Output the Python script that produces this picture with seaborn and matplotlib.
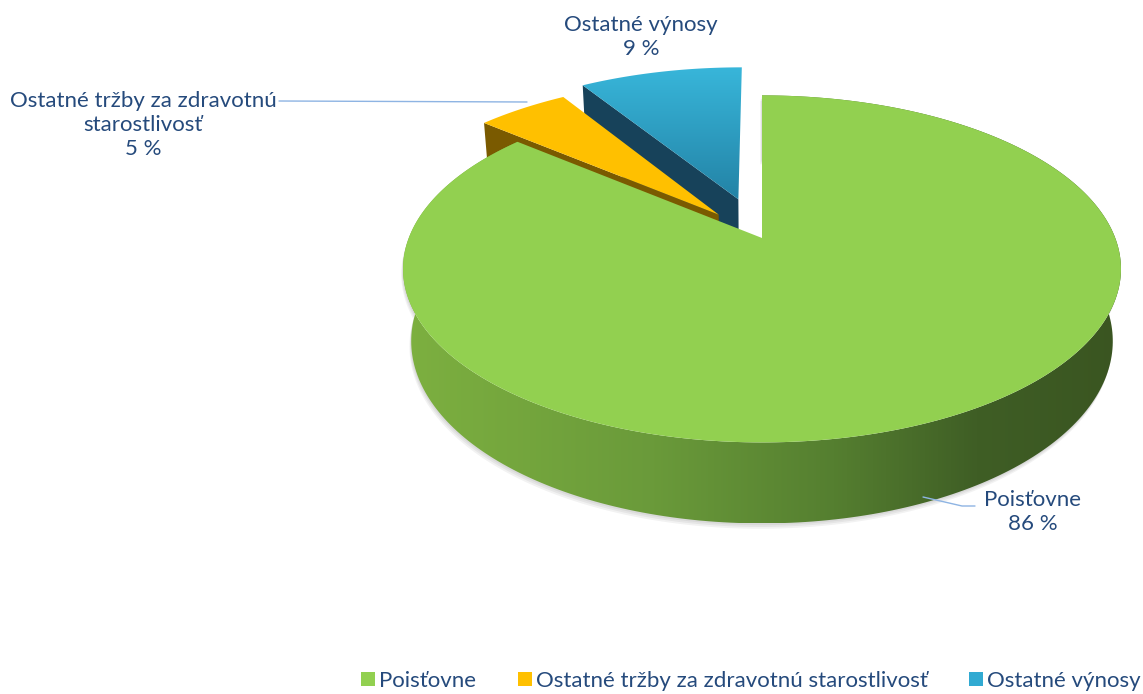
import numpy as np
import matplotlib
matplotlib.use("Agg")
import matplotlib.pyplot as plt
from matplotlib.patches import Polygon, Patch
from matplotlib.colors import LinearSegmentedColormap
import seaborn as sns

# data
kategorie = ["Poisťovne", "Ostatné tržby za zdravotnú starostlivosť", "Ostatné výnosy"]
nazvy_popisov = ["Poisťovne", "Ostatné tržby za zdravotnú\nstarostlivosť", "Ostatné výnosy"]
podiely = [86, 5, 9]

# styl
sns.set_theme(style="white")
plt.rcParams['font.family'] = ['Lato', 'DejaVu Sans']
farby = sns.color_palette(["#92D050", "#FFC000", "#31AAD2"])
farby_rezu = ["#4E7A2A", "#7A5A00", "#17425A"]
farba_textu = "#254A7C"
vysunutie = [0.0, 0.19, 0.25]

# parametre perspektivy (pixely obrazka)
CX, CY = 762, 238
F = 1745.0
DIST = 4.94
TILT = np.radians(28.4)
H = 0.235


def proj(X, Y, Z):
    d = Y * np.cos(TILT) - Z * np.sin(TILT)
    u = Y * np.sin(TILT) + Z * np.cos(TILT)
    s = F / (DIST + d)
    return np.column_stack([CX + X * s, CY - u * s])


cam = np.array([0.0, -DIST * np.cos(TILT), DIST * np.sin(TILT)])

fig = plt.figure(figsize=(11.43, 6.94), dpi=100)
ax = fig.add_axes([0, 0, 1, 1])


def gradient_fill(pts, cmap, horizontal=True, z=1):
    poly = Polygon(pts, closed=True, facecolor="none", edgecolor="none", zorder=z)
    ax.add_patch(poly)
    x0, y0 = pts.min(axis=0)
    x1, y1 = pts.max(axis=0)
    g = np.linspace(0, 1, 256)
    img = g[None, :] if horizontal else g[:, None]
    im = ax.imshow(img, cmap=cmap, extent=[x0, x1, y1, y0], aspect="auto",
                   origin="upper", zorder=z, interpolation="bilinear")
    im.set_clip_path(poly)


cmap_bok = LinearSegmentedColormap.from_list(
    "bok", [(0, "#7DB040"), (0.35, "#6A9A3A"), (0.6, "#557F30"), (0.8, "#3F5E25"), (1, "#3A5521")])
cmap_modra = LinearSegmentedColormap.from_list("modra", ["#38B6DA", "#2383A6"])

# vypocet vysekov
vyseky = []
cum = 0
for i, p in enumerate(podiely):
    a1 = 90 - cum * 3.6
    a0 = a1 - p * 3.6
    cum += p
    mid = np.radians((a0 + a1) / 2)
    ox, oy = vysunutie[i] * np.cos(mid), vysunutie[i] * np.sin(mid)
    hlbka = oy + 0.6 * np.sin(mid)
    vyseky.append((i, a0, a1, ox, oy, hlbka))

# od najvzdialenejsieho
for i, a0, a1, ox, oy, hlbka in sorted(vyseky, key=lambda v: -v[5]):
    z = 2 + (1 - hlbka)
    phi = np.radians(np.linspace(a0, a1, 300))
    X = ox + np.cos(phi)
    Y = oy + np.sin(phi)
    horna = proj(X, Y, np.zeros_like(X))
    dolna = proj(X, Y, np.full_like(X, -H))

    # vonkajsi bok
    nx, ny = np.cos(phi), np.sin(phi)
    viditelne = nx * (cam[0] - X) + ny * (cam[1] - Y) > 0
    if viditelne.any():
        bok = np.vstack([horna, dolna[::-1]])
        if i == 0:
            for k in range(3):
                tien = bok + np.array([-0.6 * (k + 1), 1.8 * (k + 1)])
                ax.add_patch(Polygon(tien, closed=True, facecolor="black",
                                     edgecolor="none", alpha=0.05, zorder=z - 0.02))
            gradient_fill(bok, cmap_bok, horizontal=True, z=z)
        else:
            ax.add_patch(Polygon(bok, closed=True, facecolor=farby_rezu[i], edgecolor="none", zorder=z))

    # radialne rezy
    for a, sgn in [(a0, -1), (a1, 1)]:
        ar = np.radians(a)
        n = np.array([-np.sin(ar), np.cos(ar)]) * sgn
        if n[0] * (cam[0] - ox) + n[1] * (cam[1] - oy) > 0.3:
            ex, ey = ox + np.cos(ar), oy + np.sin(ar)
            rez = np.vstack([proj(np.array([ox, ex]), np.array([oy, ey]), np.zeros(2)),
                             proj(np.array([ex, ox]), np.array([ey, oy]), np.full(2, -H))])
            ax.add_patch(Polygon(rez, closed=True, facecolor=farby_rezu[i],
                                 edgecolor="none", zorder=z + 0.01))

    # vrchna plocha
    vrch = np.vstack([proj(np.array([ox]), np.array([oy]), np.zeros(1)), horna])
    if i == 2:
        gradient_fill(vrch, cmap_modra, horizontal=False, z=z + 0.02)
    else:
        ax.add_patch(Polygon(vrch, closed=True, facecolor=farby[i], edgecolor="none", zorder=z + 0.02))

# popisky a vodiace ciary
ciara = "#8EB4E3"
popis_poz = [(1033, 512), (143, 125), (641, 37)]
for i, (tx, ty) in enumerate(popis_poz):
    ax.text(tx, ty, f"{nazvy_popisov[i]}\n{podiely[i]} %", ha="center", va="center",
            color=farba_textu, fontsize=16, linespacing=1.28, zorder=10)
ax.plot([923, 962, 975], [497, 506, 506], color=ciara, lw=1, zorder=10)
ax.plot([279, 527], [101, 102], color=ciara, lw=1, zorder=10)

# legenda
handles = [Patch(facecolor=farby[i], edgecolor="none") for i in range(3)]
leg = ax.legend(handles, kategorie, loc="center right", bbox_to_anchor=(1141 / 1143, 1 - 681 / 694),
                bbox_transform=fig.transFigure, ncol=3, frameon=False, fontsize=16,
                handlelength=0.63, handleheight=0.63, handletextpad=0.2, columnspacing=1.85,
                borderpad=0, borderaxespad=0)
for t in leg.get_texts():
    t.set_color(farba_textu)

ax.set_xlim(0, 1143)
ax.set_ylim(694, 0)
ax.axis("off")
fig.savefig("out.png", dpi=100)
